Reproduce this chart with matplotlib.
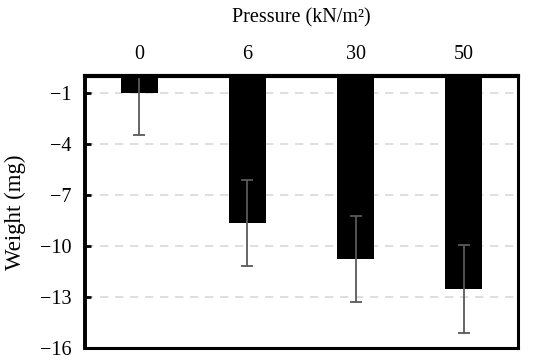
import matplotlib
matplotlib.use('Agg')
import matplotlib.pyplot as plt
import numpy as np

# pressure groups and measured weight change
pressures = ['0', '6', '30', '50']
weight = [-0.95, -8.65, -10.75, -12.55]
weight_err = [2.5, 2.55, 2.55, 2.6]
yticks = [-1, -4, -7, -10, -13, -16]

plt.rcParams['font.family'] = ['Liberation Serif', 'DejaVu Serif']
plt.rcParams['axes.unicode_minus'] = True

fig = plt.figure(figsize=(5.6, 3.62), dpi=100)
ax = fig.add_axes([0.152, 0.039, 0.773, 0.75])

x = np.arange(len(pressures))
ax.bar(x, weight, width=0.34, color='black', zorder=2)
ax.errorbar(x, weight, yerr=weight_err, fmt='none', ecolor='#595959',
            elinewidth=1.3, capsize=4, capthick=1.3, zorder=3)

ax.set_xlim(-0.5, len(pressures) - 0.5)
ax.set_ylim(-16, 0)
ax.set_yticks(yticks)
ax.set_xticks(x)
ax.set_xticklabels(pressures)

ax.xaxis.tick_top()
ax.xaxis.set_label_position('top')
ax.tick_params(axis='x', length=0, pad=9, labelsize=14.5)
ax.tick_params(axis='y', direction='in', length=4, width=2, pad=9.5, labelsize=14.5)

ax.set_xlabel('Pressure (kN/m²)', fontsize=14.5, labelpad=16)
ax.set_ylabel('Weight (mg)', fontsize=16.5, labelpad=10)

for t in yticks[:-1]:
    ax.axhline(t, color='#d9d9d9', linestyle=(0, (5, 4)), linewidth=1.2, zorder=1)

for side in ['top', 'bottom', 'left', 'right']:
    ax.spines[side].set_linewidth(2.2)
    ax.spines[side].set_zorder(4)
ax.spines['top'].set_linewidth(3)
ax.spines['left'].set_linewidth(2.8)

plt.savefig('out.png', dpi=100)
plt.close()
